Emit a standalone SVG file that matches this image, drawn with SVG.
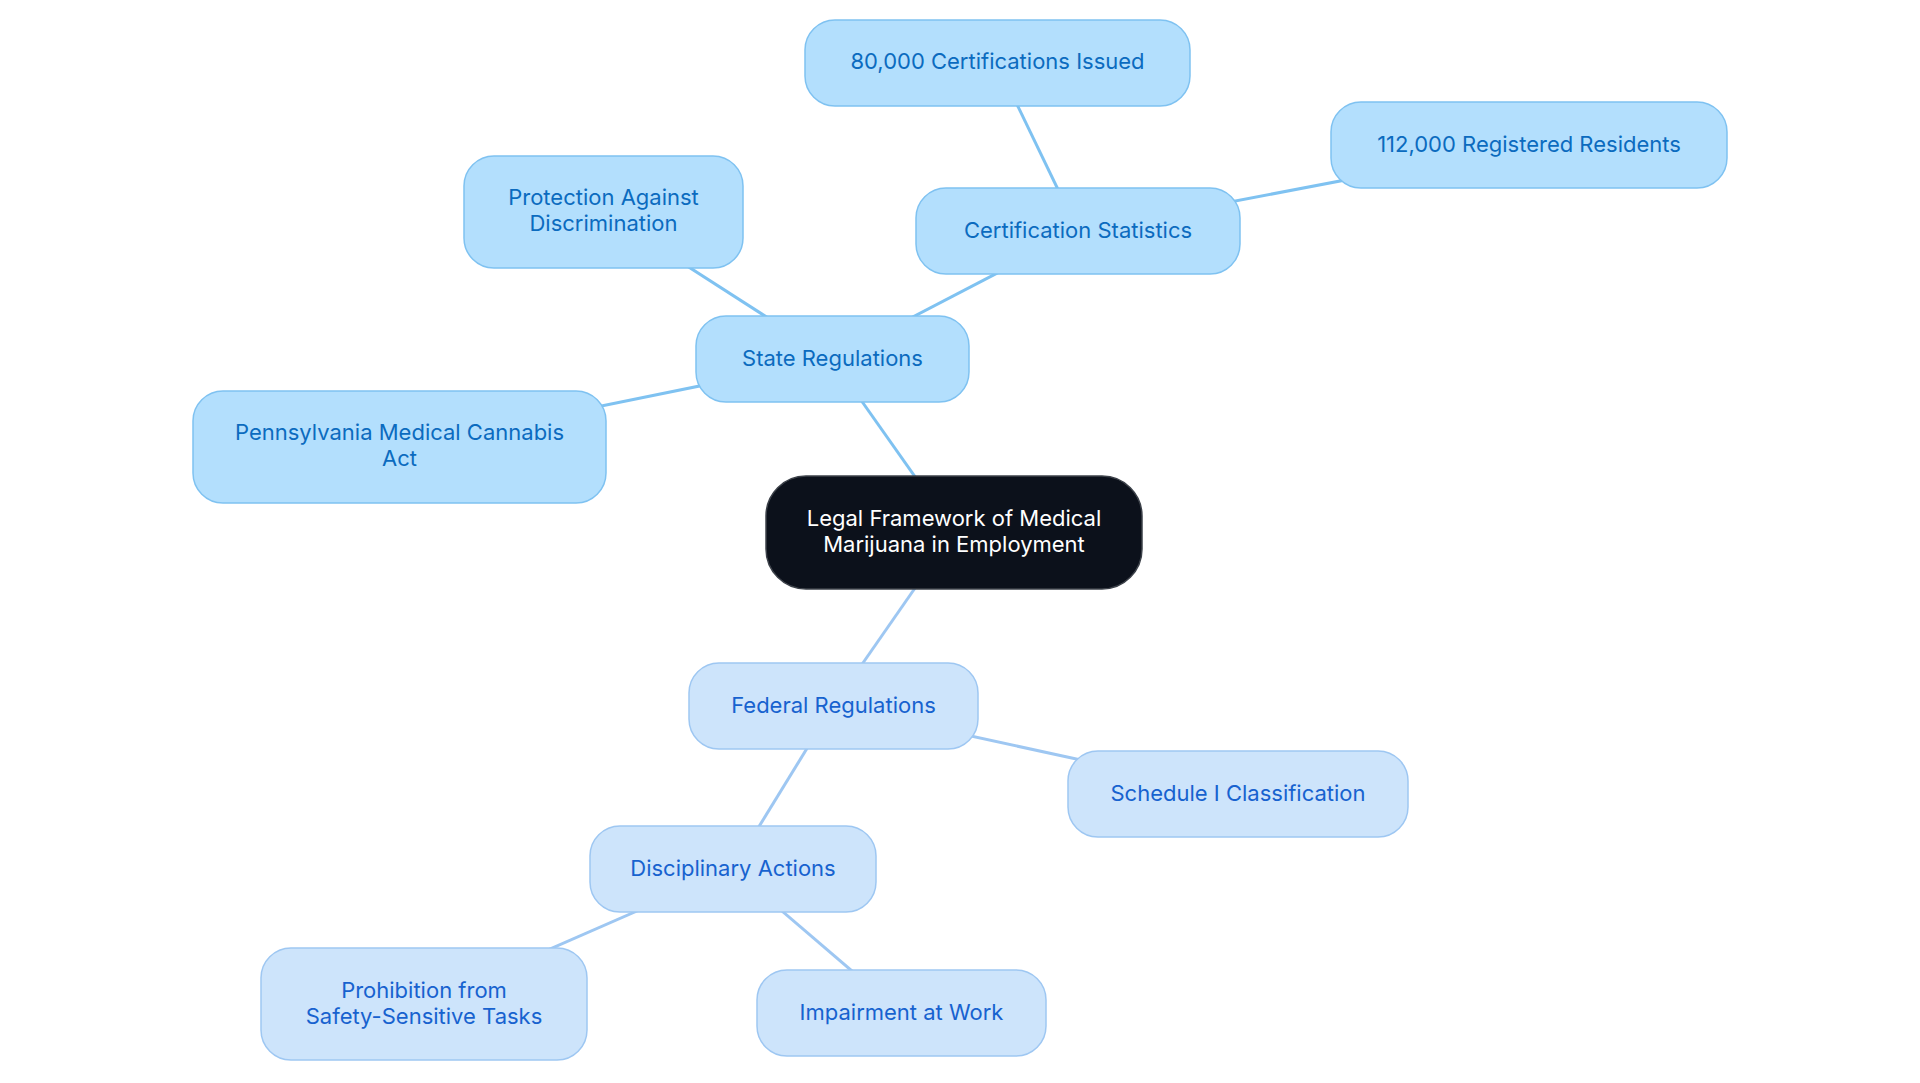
<svg xmlns="http://www.w3.org/2000/svg" width="1920" height="1083" viewBox="0 0 1920 1083">
<style>
text{font-family:Inter,"Noto Sans","Liberation Sans",sans-serif;font-size:22px;text-anchor:middle}
.s rect{fill:#b3dffd;stroke:#7fc2f1;stroke-width:1.5}
.s text{fill:#0b6bbf}
.f rect{fill:#cde4fb;stroke:#9ec7f2;stroke-width:1.5}
.f text{fill:#1762cf}
.r rect{fill:#0c111b;stroke:#3c4149;stroke-width:1.5}
.r text{fill:#ffffff}
.es{stroke:#7fc2f1;stroke-width:3;fill:none}
.ef{stroke:#9ec7f2;stroke-width:3;fill:none}
</style>
<rect width="1920" height="1083" fill="#ffffff"/>
<g id="connectors">
<line class="es" x1="954" y1="532" x2="832" y2="359"/>
<line class="es" x1="832" y1="359" x2="603" y2="212"/>
<line class="es" x1="832" y1="359" x2="400" y2="447"/>
<line class="es" x1="832" y1="359" x2="1078" y2="231"/>
<line class="es" x1="1078" y1="231" x2="997" y2="63"/>
<line class="es" x1="1078" y1="231" x2="1529" y2="145"/>
<line class="ef" x1="954" y1="532" x2="833" y2="706"/>
<line class="ef" x1="833" y1="706" x2="1237" y2="794"/>
<line class="ef" x1="833" y1="706" x2="733" y2="869"/>
<line class="ef" x1="733" y1="869" x2="424" y2="1004"/>
<line class="ef" x1="733" y1="869" x2="901" y2="1013"/>
</g>
<g id="root" class="r">
<rect x="766" y="476" width="376" height="113" rx="40"/>
<text x="954" y="526">Legal Framework of Medical</text>
<text x="954" y="552">Marijuana in Employment</text>
</g>
<g id="state" class="s">
<rect x="696" y="316" width="273" height="86" rx="30"/>
<text x="832.5" y="366">State Regulations</text>
</g>
<g id="protection" class="s">
<rect x="464" y="156" width="279" height="112" rx="30"/>
<text x="603.5" y="205">Protection Against</text>
<text x="603.5" y="231">Discrimination</text>
</g>
<g id="pennsylvania" class="s">
<rect x="193" y="391" width="413" height="112" rx="30"/>
<text x="399.5" y="440">Pennsylvania Medical Cannabis</text>
<text x="399.5" y="466">Act</text>
</g>
<g id="certstats" class="s">
<rect x="916" y="188" width="324" height="86" rx="30"/>
<text x="1078" y="238">Certification Statistics</text>
</g>
<g id="cert80k" class="s">
<rect x="805" y="20" width="385" height="86" rx="30"/>
<text x="997.5" y="69">80,000 Certifications Issued</text>
</g>
<g id="residents112k" class="s">
<rect x="1331" y="102" width="396" height="86" rx="30"/>
<text x="1529" y="152">112,000 Registered Residents</text>
</g>
<g id="federal" class="f">
<rect x="689" y="663" width="289" height="86" rx="30"/>
<text x="833.5" y="713">Federal Regulations</text>
</g>
<g id="schedule" class="f">
<rect x="1068" y="751" width="340" height="86" rx="30"/>
<text x="1238" y="801">Schedule I Classification</text>
</g>
<g id="disciplinary" class="f">
<rect x="590" y="826" width="286" height="86" rx="30"/>
<text x="733" y="876">Disciplinary Actions</text>
</g>
<g id="prohibition" class="f">
<rect x="261" y="948" width="326" height="112" rx="30"/>
<text x="424" y="998">Prohibition from</text>
<text x="424" y="1024">Safety-Sensitive Tasks</text>
</g>
<g id="impairment" class="f">
<rect x="757" y="970" width="289" height="86" rx="30"/>
<text x="901.5" y="1020">Impairment at Work</text>
</g>
</svg>
